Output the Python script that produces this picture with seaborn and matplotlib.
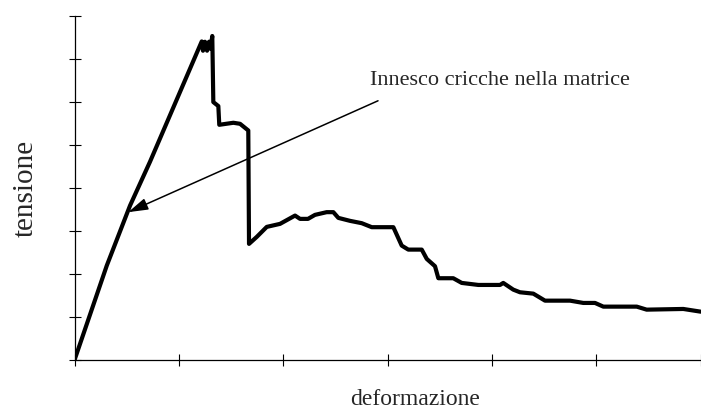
import numpy as np
import pandas as pd
import matplotlib
matplotlib.use("Agg")
import matplotlib.pyplot as plt
import seaborn as sns

# strain / stress curve (axis units = tick spacing)
deformazione = [0.0, 0.309, 0.532, 0.723, 1.219, 1.231, 1.250, 1.270, 1.289, 1.303,
                1.320, 1.330, 1.378, 1.387, 1.522, 1.586, 1.665, 1.672, 1.746, 1.842,
                1.969, 2.113, 2.161, 2.237, 2.304, 2.416, 2.480, 2.528, 2.640, 2.752,
                2.848, 3.055, 3.135, 3.198, 3.327, 3.375, 3.454, 3.486, 3.629, 3.710,
                3.869, 4.077, 4.108, 4.204, 4.268, 4.396, 4.508, 4.748, 4.875, 4.987,
                5.067, 5.387, 5.482, 5.833, 6.0]
tensione = [0.0, 2.193, 3.588, 4.605, 7.402, 7.186, 7.395, 7.186, 7.395, 7.233,
            7.528, 5.993, 5.900, 5.465, 5.512, 5.488, 5.333, 2.698, 2.860, 3.093,
            3.163, 3.356, 3.279, 3.279, 3.372, 3.435, 3.435, 3.302, 3.233, 3.179,
            3.086, 3.086, 2.658, 2.565, 2.565, 2.349, 2.179, 1.900, 1.900, 1.791,
            1.744, 1.744, 1.791, 1.635, 1.574, 1.542, 1.379, 1.379, 1.326, 1.326,
            1.240, 1.240, 1.170, 1.186, 1.123]

x_ticks = [0, 1, 2, 3, 4, 5, 6]
y_ticks = [0, 1, 2, 3, 4, 5, 6, 7, 8]

annot_text = "Innesco cricche nella matrice"
arrow_start = (2.908, 6.023)
arrow_tip = (0.515, 3.435)

df = pd.DataFrame({"deformazione": deformazione, "tensione": tensione})

sns.set_style("ticks")
plt.rcParams["font.family"] = ["Liberation Serif", "DejaVu Serif"]

fig = plt.figure(figsize=(7.01, 4.10), dpi=100)
ax = fig.add_axes([0.1063, 0.1195, 0.8933, 0.8398])

sns.lineplot(data=df, x="deformazione", y="tensione", sort=False, estimator=None,
             color="black", linewidth=3.0, ax=ax)

ax.set_xlim(0, 6)
ax.set_ylim(0, 8)
ax.set_xticks(x_ticks)
ax.set_yticks(y_ticks)
ax.set_xticklabels([])
ax.set_yticklabels([])
ax.tick_params(direction="inout", length=9, width=0.8, color="black")
sns.despine(ax=ax)
for s in ["left", "bottom"]:
    ax.spines[s].set_linewidth(0.9)
    ax.spines[s].set_color("black")
ax.set_xlabel("")
ax.set_ylabel("")

ax.annotate("", xy=arrow_tip, xytext=arrow_start, xycoords="data",
            arrowprops=dict(arrowstyle="-|>,head_length=1.2,head_width=0.36",
                            mutation_scale=10, color="black", lw=1.1,
                            shrinkA=0, shrinkB=0))
ax.text(2.831, 6.419, annot_text, fontsize=16, va="baseline", ha="left")

fig.text(415 / 701, 5 / 410, "deformazione", fontsize=17, ha="center", va="baseline")
fig.text(33 / 701, (410 - 188) / 410, "tensione", fontsize=21, rotation=90,
         rotation_mode="anchor", ha="center", va="baseline")

fig.savefig("out.png", dpi=100)
